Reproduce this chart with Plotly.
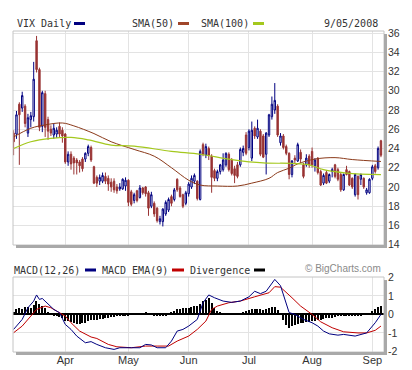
import pandas as pd
import plotly.graph_objects as go

# ---------------- data ----------------
holidays = ["2008-03-21", "2008-05-26", "2008-07-04", "2008-09-01"]
dates = [d.strftime("%Y-%m-%d") for d in pd.bdate_range("2008-03-05", "2008-09-05")
         if d.strftime("%Y-%m-%d") not in holidays]

vix_open = [25.6, 25.5, 28.6, 28.2, 28.4, 25.6, 27.0, 27.3, 35.2, 32.2,
            26.3, 29.7, 27.0, 26.0, 25.4, 25.5, 26.3, 25.9, 25.5, 22.6,
            23.4, 23.0, 22.8, 22.6, 22.9, 22.9, 23.5, 24.1, 22.1, 21.0,
            20.6, 20.6, 21.1, 20.9, 20.5, 20.6, 20.0, 19.8, 19.8, 20.1,
            20.7, 19.5, 18.6, 19.6, 18.9, 19.9, 20.0, 19.4, 18.0, 18.3,
            17.8, 16.4, 16.4, 17.2, 17.6, 19.0, 18.7, 20.8, 19.9, 19.2,
            18.3, 19.3, 20.0, 20.6, 20.6, 18.7, 24.4, 23.3, 24.0, 23.2,
            21.7, 20.9, 21.6, 21.8, 22.3, 23.4, 22.8, 21.9, 22.3, 22.3,
            23.6, 25.4, 24.1, 23.0, 26.1, 25.2, 25.8, 25.3, 23.4, 25.4,
            27.3, 28.0, 28.4, 24.6, 25.3, 24.2, 23.5, 21.3, 23.0, 22.7,
            23.6, 22.3, 22.3, 23.2, 23.7, 22.2, 23.0, 21.6, 20.4, 21.5,
            20.6, 21.6, 22.3, 21.8, 21.3, 19.7, 21.8, 21.6, 20.9, 19.2,
            21.1, 20.8, 20.9, 19.4, 19.4, 20.9, 22.2, 22.0, 24.8]
vix_high = [25.9, 27.9, 28.8, 29.9, 28.6, 27.6, 27.8, 33.0, 35.7, 32.4,
            30.0, 30.0, 27.3, 26.4, 26.6, 26.2, 26.7, 26.2, 25.6, 23.7,
            23.7, 23.2, 23.0, 22.8, 23.1, 23.6, 24.4, 24.3, 22.2, 21.2,
            21.3, 21.5, 21.5, 21.2, 20.9, 20.9, 20.3, 20.4, 20.9, 21.0,
            20.8, 19.7, 19.4, 19.7, 20.2, 20.0, 20.1, 19.6, 19.5, 18.5,
            17.9, 17.0, 17.8, 18.6, 18.9, 19.2, 19.9, 20.9, 20.1, 19.3,
            19.6, 20.5, 21.2, 21.4, 20.7, 23.9, 24.6, 24.5, 24.2, 23.4,
            21.9, 21.8, 22.4, 23.5, 23.6, 23.6, 23.0, 22.2, 22.6, 24.1,
            24.3, 25.7, 26.0, 26.8, 26.3, 27.0, 26.0, 25.5, 25.7, 27.6,
            29.4, 30.8, 28.6, 25.6, 25.5, 24.4, 23.6, 22.8, 23.3, 24.6,
            23.9, 22.5, 23.4, 23.4, 24.1, 23.0, 23.1, 21.8, 21.4, 21.7,
            21.4, 22.0, 22.4, 22.0, 21.5, 21.4, 22.2, 21.7, 21.0, 21.4,
            21.2, 21.4, 21.0, 19.9, 20.9, 22.3, 22.4, 24.2, 24.9]
vix_low = [23.3, 25.0, 22.3, 27.8, 26.2, 25.2, 26.2, 26.8, 31.9, 25.8,
           25.7, 25.2, 24.9, 25.3, 25.0, 25.1, 25.2, 24.6, 22.4, 22.2,
           21.8, 21.3, 21.3, 21.5, 21.6, 22.6, 23.2, 22.6, 20.3, 20.0,
           20.2, 20.4, 20.3, 19.6, 19.5, 19.4, 19.3, 19.6, 19.7, 19.6,
           18.0, 18.0, 18.3, 18.4, 18.8, 19.2, 19.0, 17.0, 17.8, 16.9,
           16.3, 16.1, 15.9, 17.0, 17.4, 18.0, 18.5, 19.5, 18.9, 17.8,
           18.1, 19.0, 19.8, 20.3, 18.6, 18.6, 23.2, 23.0, 22.8, 19.4,
           20.6, 20.6, 21.3, 21.6, 22.1, 21.6, 21.2, 20.4, 20.9, 22.1,
           23.2, 23.3, 23.8, 22.7, 25.0, 25.0, 23.2, 23.0, 21.3, 25.2,
           27.0, 27.6, 25.2, 24.3, 23.9, 23.3, 20.8, 21.0, 22.4, 22.6,
           22.5, 20.9, 22.1, 22.0, 22.0, 21.6, 21.3, 20.1, 20.2, 20.3,
           20.4, 21.0, 20.9, 20.6, 19.5, 19.6, 21.2, 20.1, 19.8, 19.0,
           18.7, 20.2, 19.8, 19.2, 19.3, 20.7, 21.4, 21.8, 23.1]
vix_close = [24.7, 27.5, 27.5, 29.5, 26.6, 27.2, 27.4, 31.2, 32.2, 26.2,
             29.8, 26.2, 25.8, 25.6, 26.1, 25.9, 25.5, 25.3, 22.6, 23.4,
             22.4, 22.5, 22.5, 22.2, 21.9, 23.5, 24.2, 22.8, 20.4, 20.4,
             21.0, 21.2, 20.6, 20.3, 20.0, 19.7, 19.6, 20.0, 20.8, 20.7,
             18.4, 18.2, 19.2, 18.6, 19.9, 19.4, 19.3, 17.8, 19.2, 17.2,
             16.5, 16.7, 17.7, 18.4, 18.7, 18.3, 19.7, 19.7, 19.0, 18.0,
             19.4, 20.3, 20.9, 21.2, 18.8, 23.7, 23.4, 24.2, 23.3, 21.0,
             20.9, 21.6, 22.3, 22.8, 23.5, 21.8, 21.4, 21.2, 21.1, 23.9,
             24.0, 23.5, 25.8, 25.9, 25.3, 26.1, 23.4, 23.1, 25.6, 27.5,
             28.6, 29.0, 25.4, 25.3, 24.1, 23.5, 21.3, 22.7, 22.8, 24.4,
             22.9, 21.1, 23.0, 22.3, 22.3, 22.8, 21.5, 20.2, 21.2, 20.4,
             21.3, 21.8, 21.1, 20.8, 19.7, 21.3, 21.3, 20.2, 20.0, 21.3,
             19.2, 21.3, 20.0, 19.7, 20.8, 22.1, 21.6, 24.0, 23.3]

# moving averages, read at a few trading-day positions
sma50_day = [0, 6, 11, 17, 21, 28, 34, 42, 49, 55, 61, 65, 71, 78, 83, 89, 92, 96, 99, 105, 112, 118, 128]
sma50_val = [25.2, 26.1, 26.45, 26.65, 26.35, 25.55, 24.7, 23.9, 23.2, 22.0, 20.7, 20.2, 20.1, 20.1,
             20.4, 20.9, 21.5, 21.95, 22.4, 22.9, 23.05, 22.85, 22.65]
sma100_day = [0, 6, 13, 20, 26, 34, 42, 55, 65, 76, 87, 97, 103, 108, 116, 128]
sma100_val = [24.0, 24.7, 25.05, 25.15, 24.9, 24.35, 24.25, 23.7, 23.4, 22.85, 22.5, 22.45, 22.3,
              21.8, 21.45, 21.28]

# MACD panel
macd_day = [0, 3, 5, 7, 8, 9, 10, 12, 14, 16, 18, 20, 22, 25, 27, 29, 32, 35, 37, 41, 44, 46, 48,
            50, 53, 55, 57, 59, 61, 64, 66, 68, 70, 73, 76, 79, 82, 84, 86, 88, 91, 93, 95, 96,
            98, 101, 104, 106, 108, 110, 113, 115, 119, 122, 123, 126, 128]
macd_val = [-0.81, -0.27, 0.36, 0.72, 1.05, 0.81, 0.86, 0.54, 0.27, 0.09, -0.54, -0.81, -1.17,
            -1.53, -1.47, -1.62, -1.8, -1.89, -1.8, -1.8, -1.8, -1.62, -1.65, -1.8, -1.8, -1.44,
            -0.9, -0.81, -0.63, -0.27, 0.63, 1.05, 0.9, 0.72, 0.65, 0.72, 0.95, 1.25, 1.12, 1.25,
            1.89, 1.55, 0.6, 0.1, 0.0, -0.27, -0.45, -0.63, -0.9, -1.05, -1.12, -1.08, -1.17,
            -1.05, -1.0, -0.45, 0.0]
ema_day = [0, 3, 6, 8, 11, 13, 15, 18, 20, 23, 27, 29, 33, 36, 41, 46, 50, 54, 57, 61, 64, 67,
           69, 71, 75, 79, 84, 89, 91, 93, 97, 100, 104, 107, 111, 115, 120, 123, 126, 128]
ema_val = [-0.99, -0.63, -0.09, 0.27, 0.45, 0.36, 0.18, -0.09, -0.45, -0.9, -1.22, -1.3, -1.62,
           -1.75, -1.8, -1.71, -1.71, -1.71, -1.44, -1.17, -0.81, -0.36, 0.27, 0.45, 0.63, 0.72,
           0.95, 1.17, 1.5, 1.47, 0.9, 0.45, 0.0, -0.4, -0.72, -0.94, -1.0, -1.0, -0.86, -0.63]
divergence = [0.15, 0.3, 0.35, 0.3, 0.4, 0.4, 0.35, 0.5, 0.75, 0.55,
              0.45, 0.35, 0.15, 0.05, -0.05, -0.1, -0.15, -0.2, -0.35, -0.35,
              -0.4, -0.45, -0.5, -0.5, -0.45, -0.45, -0.35, -0.3, -0.3, -0.3,
              -0.25, -0.25, -0.2, -0.2, -0.15, -0.15, -0.1, -0.1, -0.05, -0.05,
              -0.05, -0.03, -0.02, 0.0, 0.03, 0.1, 0.12, 0.08, 0.03, -0.05,
              -0.08, -0.1, -0.1, -0.05, 0.08, 0.14, 0.2, 0.27, 0.3, 0.33,
              0.36, 0.36, 0.4, 0.45, 0.45, 0.55, 0.7, 0.8, 0.9, 0.6,
              0.35, 0.2, 0.12, 0.1, 0.08, 0.06, 0.05, 0.05, 0.06, 0.08,
              0.12, 0.2, 0.25, 0.28, 0.3, 0.3, 0.28, 0.25, 0.3, 0.35,
              0.38, 0.4, 0.25, 0.0, -0.3, -0.55, -0.72, -0.65, -0.55, -0.5,
              -0.45, -0.45, -0.4, -0.4, -0.35, -0.35, -0.3, -0.3, -0.25, -0.22,
              -0.2, -0.18, -0.15, -0.1, -0.08, -0.06, -0.05, -0.04, -0.06, -0.08,
              -0.06, -0.04, -0.02, 0.0, 0.05, 0.18, 0.27, 0.4, 0.45]

month_dates = ["2008-04-01", "2008-05-01", "2008-06-02", "2008-07-01", "2008-08-01", "2008-09-02"]
month_labels = ["Apr", "May", "Jun", "Jul", "Aug", "Sep"]
price_ticks = list(range(14, 37, 2))
macd_ticks = [-2, -1, 0, 1, 2]

# ---------------- styling ----------------
W, H = 412, 370
ML, MR, MT, MB = 5, 36, 23, 26
PW, PH = W - ML - MR, H - MT - MB
def px(x):
    return (x - ML) / PW
def py(y):
    return (H - MB - y) / PH

NAVY = "#000080"
CANDLE_RED = "#993333"
SMA50_C = "#8b3a1a"
SMA100_C = "#a4c81e"
SIG_RED = "#c00000"
GRID = "#e3e3e3"
TXT = "#333333"
MONO = "DejaVu Sans Mono"
SANS = "Liberation Sans, Arial, sans-serif"

fig = go.Figure()
fig.add_trace(go.Candlestick(
    x=dates, open=vix_open, high=vix_high, low=vix_low, close=vix_close,
    increasing=dict(line=dict(color=NAVY, width=1), fillcolor="white"),
    decreasing=dict(line=dict(color=CANDLE_RED, width=1), fillcolor=CANDLE_RED),
    whiskerwidth=0, xaxis="x", yaxis="y", showlegend=False, hoverinfo="skip"))
fig.add_trace(go.Scatter(x=[dates[i] for i in sma50_day], y=sma50_val, mode="lines",
                         line=dict(color=SMA50_C, width=1, shape="spline"),
                         xaxis="x", yaxis="y", showlegend=False))
fig.add_trace(go.Scatter(x=[dates[i] for i in sma100_day], y=sma100_val, mode="lines",
                         line=dict(color=SMA100_C, width=1.2, shape="spline"),
                         xaxis="x", yaxis="y", showlegend=False))

fig.add_trace(go.Bar(x=dates, y=divergence, width=0.4, marker=dict(color="black", line=dict(width=0)),
                     xaxis="x2", yaxis="y2", showlegend=False))
fig.add_trace(go.Scatter(x=[dates[i] for i in ema_day], y=ema_val, mode="lines",
                         line=dict(color=SIG_RED, width=1), xaxis="x2", yaxis="y2", showlegend=False))
fig.add_trace(go.Scatter(x=[dates[i] for i in macd_day], y=macd_val, mode="lines",
                         line=dict(color=NAVY, width=1), xaxis="x2", yaxis="y2", showlegend=False))

xr = [-0.21, 129.06]
common_x = dict(type="category", categoryorder="array", categoryarray=dates, range=xr,
                tickvals=month_dates, showgrid=True, gridcolor=GRID, gridwidth=1,
                showline=False, ticks="", zeroline=False)
main_bottom = py(237)
macd_top = py(269)

fig.update_layout(
    width=W, height=H, margin=dict(l=ML, r=MR, t=MT, b=MB),
    paper_bgcolor="white", plot_bgcolor="white", showlegend=False, bargap=0,
    xaxis=dict(**common_x, domain=[0, 1], anchor="y", showticklabels=False,
               rangeslider=dict(visible=False)),
    yaxis=dict(domain=[main_bottom, 1], side="right", range=[13.97, 36.21],
               tickvals=price_ticks, showgrid=True, gridcolor=GRID, zeroline=False,
               ticks="", ticklabelstandoff=3, tickfont=dict(family=SANS, size=10.5, color=TXT)),
    xaxis2=dict(**common_x, domain=[0, 1], anchor="y2", ticktext=month_labels,
                tickfont=dict(family=SANS, size=11, color=TXT)),
    yaxis2=dict(domain=[0, macd_top], side="right", range=[-2.03, 2.02],
                tickvals=macd_ticks, ticktext=["-2", "-1", "0", "1", "2"],
                showgrid=True, gridcolor=GRID, zeroline=True, zerolinecolor="black",
                zerolinewidth=2, ticks="", ticklabelstandoff=3,
                tickfont=dict(family=SANS, size=10.5, color=TXT)),
)

shapes = []
for (yt, yb) in [(23, 237), (269, 344)]:
    # frame
    shapes.append(dict(type="rect", xref="paper", yref="paper", x0=px(5), x1=px(376),
                       y0=py(yb), y1=py(yt), line=dict(color="#c4c4c4", width=1)))
    # drop shadow right and bottom
    shapes.append(dict(type="line", xref="paper", yref="paper", x0=px(377.5), x1=px(377.5),
                       y0=py(yb + 3), y1=py(yt + 3), line=dict(color="#a9a9a9", width=3)))
    shapes.append(dict(type="line", xref="paper", yref="paper", x0=px(8), x1=px(379),
                       y0=py(yb + 1.5), y1=py(yb + 1.5), line=dict(color="#a9a9a9", width=3)))

# legend swatches
for (x0, x1, yy, c) in [(66, 77, 15.5, NAVY), (170, 181, 15.5, "#a0462a"), (245, 256, 15.5, SMA100_C),
                        (77, 88, 262, NAVY), (164, 176, 262, SIG_RED), (246, 257, 262, "black")]:
    shapes.append(dict(type="line", xref="paper", yref="paper", x0=px(x0), x1=px(x1),
                       y0=py(yy), y1=py(yy), line=dict(color=c, width=3)))
fig.update_layout(shapes=shapes)

ann = []
def label(text, x, y, anchor="left", font=MONO, size=10, color=TXT):
    ann.append(dict(text=text, x=px(x), y=py(y), xref="paper", yref="paper",
                    xanchor=anchor, yanchor="middle", showarrow=False,
                    font=dict(family=font, size=size, color=color)))
label("VIX Daily", 7, 15.5)
label("SMA(50)", 122, 15.5)
label("SMA(100)", 191, 15.5)
label("9/05/2008", 372, 15.5, anchor="right")
label("MACD(12,26)", 4, 262)
label("MACD EMA(9)", 92, 262)
label("Divergence", 180, 262)
label("© BigCharts.com", 375, 260, anchor="right", font=SANS, size=10, color="#8a8a8a")
fig.update_layout(annotations=ann)

fig.write_html("out.html")
